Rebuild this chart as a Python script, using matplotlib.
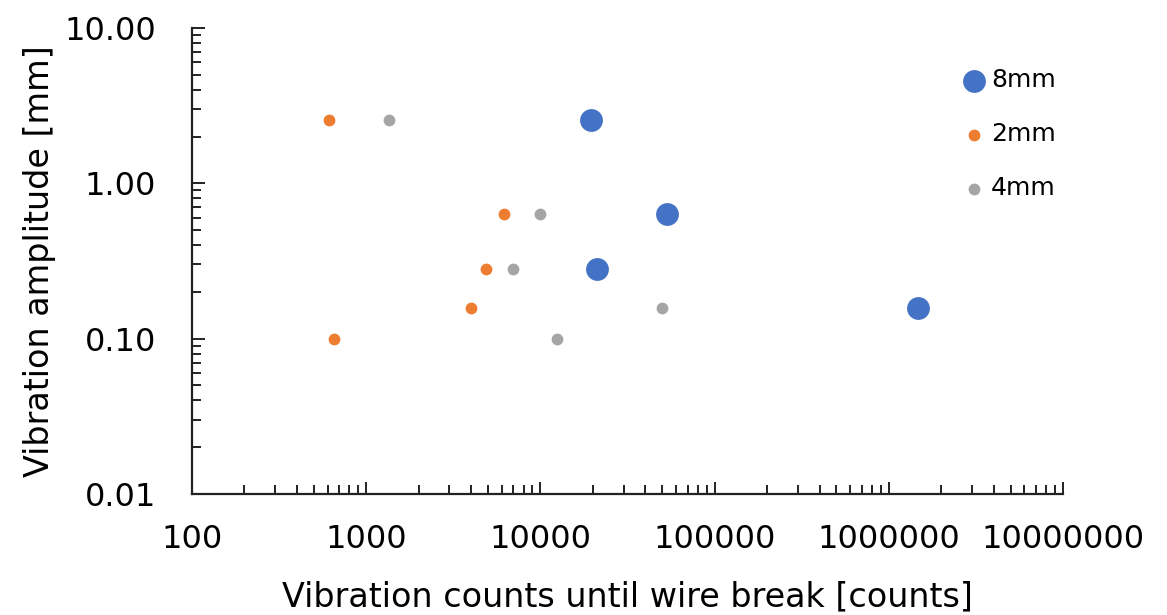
import matplotlib
matplotlib.use("Agg")
import matplotlib.pyplot as plt
from matplotlib.ticker import LogLocator, FixedLocator, FixedFormatter, NullFormatter

plt.rcParams["font.family"] = ["DejaVu Sans"]

# data (x: counts until wire break, y: amplitude in mm)
x_8mm = [19500, 53000, 21000, 1460000]
y_8mm = [2.54, 0.63, 0.28, 0.157]

x_2mm = [610, 650, 4000, 4900, 6200]
y_2mm = [2.54, 0.10, 0.157, 0.28, 0.63]

x_4mm = [1350, 10000, 7000, 12400, 50000]
y_4mm = [2.54, 0.63, 0.28, 0.10, 0.157]

x_ticks = [100, 1000, 10000, 100000, 1000000, 10000000]
x_tick_labels = ["100", "1000", "10000", "100000", "1000000", "10000000"]
y_ticks = [0.01, 0.1, 1, 10]
y_tick_labels = ["0.01", "0.10", "1.00", "10.00"]

fig = plt.figure(figsize=(11.67, 6.15), dpi=100)
ax = fig.add_axes([0.1645, 0.197, 0.7465, 0.7575])

ax.scatter(x_8mm, y_8mm, s=270, color="#4472C4", label="8mm", zorder=3, linewidths=0)
ax.scatter(x_2mm, y_2mm, s=72, color="#ED7D31", label="2mm", zorder=3, linewidths=0)
ax.scatter(x_4mm, y_4mm, s=72, color="#A5A5A5", label="4mm", zorder=3, linewidths=0)

ax.set_xscale("log")
ax.set_yscale("log")
ax.set_xlim(100, 10000000)
ax.set_ylim(0.01, 10)

ax.xaxis.set_major_locator(FixedLocator(x_ticks))
ax.xaxis.set_major_formatter(FixedFormatter(x_tick_labels))
ax.yaxis.set_major_locator(FixedLocator(y_ticks))
ax.yaxis.set_major_formatter(FixedFormatter(y_tick_labels))
ax.xaxis.set_minor_locator(LogLocator(base=10, subs=range(2, 10), numticks=20))
ax.yaxis.set_minor_locator(LogLocator(base=10, subs=range(2, 10), numticks=20))
ax.xaxis.set_minor_formatter(NullFormatter())
ax.yaxis.set_minor_formatter(NullFormatter())

for side in ["top", "right"]:
    ax.spines[side].set_visible(False)
for side in ["left", "bottom"]:
    ax.spines[side].set_linewidth(1.6)
    ax.spines[side].set_color("#222222")

ax.tick_params(which="major", direction="in", length=9, width=1.4, labelsize=23,
               colors="#222222", labelcolor="black")
ax.tick_params(which="minor", direction="in", length=6.5, width=1.4, colors="#222222")
ax.tick_params(axis="x", which="major", pad=22)
ax.tick_params(axis="y", which="major", pad=26)

ax.set_xlabel("Vibration counts until wire break [counts]", fontsize=24, labelpad=18)
ax.set_ylabel("Vibration amplitude [mm]", fontsize=24, labelpad=6)

ax.legend(loc="upper left", bbox_to_anchor=(0.857, 0.935), frameon=False,
          fontsize=18, labelspacing=1.2, handletextpad=-0.3, borderaxespad=0,
          scatterpoints=1)

fig.savefig("out.png", dpi=100)
